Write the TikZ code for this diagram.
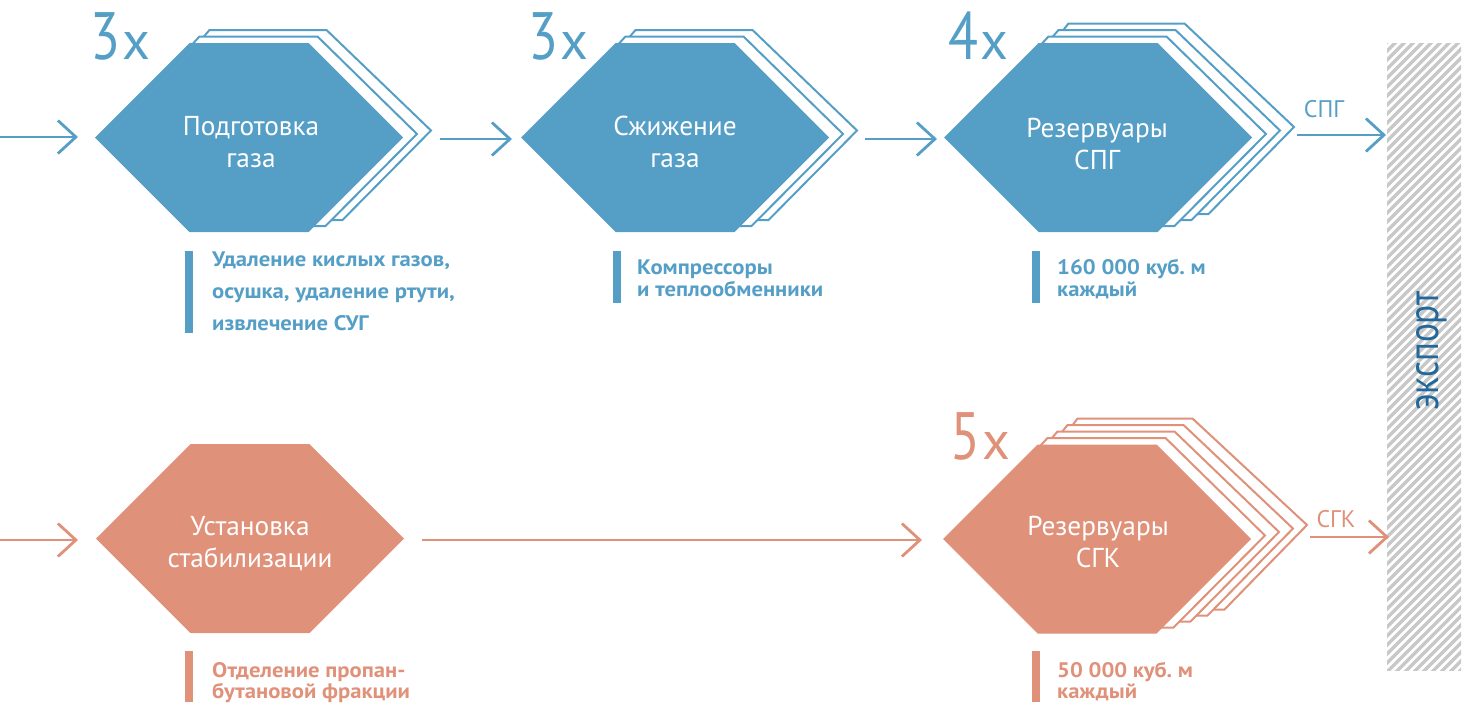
\documentclass[tikz,border=0pt]{standalone}
\usepackage{fontspec}
\setmainfont{PT Sans}
\newfontfamily\condfont[FakeStretch=0.82]{PT Sans}
\newfontfamily\notefont[FakeStretch=1.08]{PT Sans Bold}
\usetikzlibrary{arrows.meta}
\frenchspacing
\definecolor{cblue}{HTML}{559FC7}
\definecolor{corange}{HTML}{E0917A}
\definecolor{cdark}{HTML}{23689A}
\definecolor{chatch}{HTML}{C8C8C8}
\tikzset{
  flow/.style={line width=2.8pt, line cap=butt, -{Straight Barb[length=18pt,width=33pt,line width=2.8pt]}},
  hexlabel/.style={text=white, font=\fontsize{27.3}{32}\selectfont, anchor=base, inner sep=0pt},
  note/.style={font=\notefont\fontsize{21}{22}\selectfont, anchor=base west, inner sep=0pt},
  mult/.style={anchor=base west, inner sep=0pt},
  arrlabel/.style={font=\fontsize{24}{24}\selectfont, anchor=base, inner sep=0pt},
  layer/.style={fill=white, line width=2pt, line join=miter},
}
\newcommand\hexlayers[4]{% cx cy colour list
  \begin{scope}[shift={(#1,#2)}]
    \foreach \k in {#4} {
      \draw[layer, draw=#3] ({-59.5+10*\k},{-94.5-6.5*\k}) -- ({59.5+9*\k},{-94.5-6.5*\k})
        -- ({154+14*\k},{-3.5*\k}) -- ({59.5+17*\k},{94.5-6*\k})
        -- ({-59.5+17*\k},{94.5-6*\k}) -- ({-154+14*\k},{-3.5*\k}) -- cycle;
    }
  \end{scope}}
\newcommand\hexmain[3]{% cx cy colour
  \begin{scope}[shift={(#1,#2)}]
    \fill[#3] (-59.5,-94.5) -- (59.5,-94.5) -- (154,0) -- (59.5,94.5) -- (-59.5,94.5) -- (-154,0) -- cycle;
  \end{scope}}
\newcommand\multnum[2]{{\condfont\fontsize{67}{67}\selectfont #1}\hspace{2pt}{\fontsize{54}{54}\selectfont #2}}
\begin{document}
\begin{tikzpicture}[x=1pt,y=-1pt]
\useasboundingbox (0,0) rectangle (1469,702);
% export bar
\begin{scope}
  \clip (1387,43) rectangle (1461,670);
  \foreach \c in {1420,1429,...,2150} {
    \draw[chatch, line width=3.3pt] ({\c-700},700) -- (\c,0);
  }
\end{scope}
\node[rotate=90, text=cdark, font=\condfont\fontsize{43}{43}\selectfont, inner sep=0pt] (exptext) at (1432,351) {экспорт};

% hexagons
\hexlayers{249}{137.5}{cblue}{2,1}
\hexmain{249}{137.5}{cblue}
\hexlayers{675}{137.5}{cblue}{2,1}
\hexmain{675}{137.5}{cblue}
\hexlayers{1098}{137.5}{cblue}{3,2,1}
\hexmain{1098}{137.5}{cblue}
\hexmain{250}{538.5}{corange}
\hexlayers{1097}{539}{corange}{4,3,2,1}
\hexmain{1097}{539}{corange}

\coordinate (h1) at (249,137.5);
\coordinate (h2) at (675,137.5);
\coordinate (h3) at (1098,137.5);
\coordinate (h4) at (250,538.5);
\coordinate (h5) at (1097,539);

% hexagon labels
\node[hexlabel] (h1a) at (251,135) {Подготовка};
\node[hexlabel] (h1b) at (251,167) {газа};
\node[hexlabel] (h2a) at (675,135) {Сжижение};
\node[hexlabel] (h2b) at (675,167) {газа};
\node[hexlabel] (h3a) at (1097,137) {Резервуары};
\node[hexlabel] (h3b) at (1097,169) {СПГ};
\node[hexlabel] (h4a) at (250,535) {Установка};
\node[hexlabel] (h4b) at (250,567) {стабилизации};
\node[hexlabel] (h5a) at (1098,535) {Резервуары};
\node[hexlabel] (h5b) at (1098,567) {СГК};

% multipliers
\node[mult, text=cblue] (m1) at (90,59.5) {\multnum{3}{x}};
\node[mult, text=cblue] (m2) at (528,59.5) {\multnum{3}{x}};
\node[mult, text=cblue] (m3) at (948,59.5) {\multnum{4}{x}};
\node[mult, text=corange] (m5) at (950,459.5) {\multnum{5}{x}};

% arrows
\coordinate (s1) at (0,137);   \coordinate (t1) at (78,137);
\coordinate (s2) at (440,139); \coordinate (t2) at (512,139);
\coordinate (s3) at (865,139); \coordinate (t3) at (937,139);
\coordinate (s4) at (1297,135); \coordinate (t4) at (1386,135);
\coordinate (s5) at (0,540);   \coordinate (t5) at (78,540);
\coordinate (s6) at (422,540); \coordinate (t6) at (922,540);
\coordinate (s7) at (1310,537); \coordinate (t7) at (1389,537);
\draw[flow, cblue] (s1) -- (t1);
\draw[flow, cblue] (s2) -- (t2);
\draw[flow, cblue] (s3) -- (t3);
\draw[flow, cblue] (s4) -- (t4);
\draw[flow, corange] (s5) -- (t5);
\draw[flow, corange] (s6) -- (t6);
\draw[flow, corange] (s7) -- (t7);
\node[arrlabel, text=cblue] (l4) at (1324,117) {СПГ};
\node[arrlabel, text=corange] (l7) at (1336,527) {СГК};

% notes
\fill[cblue] (185,251) rectangle (193,333);
\node[note, text=cblue] (n1a) at (212,266) {Удаление кислых газов,};
\node[note, text=cblue] (n1b) at (212,298) {осушка, удаление ртути,};
\node[note, text=cblue] (n1c) at (212,330) {извлечение СУГ};
\fill[cblue] (613,251) rectangle (621,303);
\node[note, text=cblue] (n2a) at (637,274) {Компрессоры};
\node[note, text=cblue] (n2b) at (637,296) {и теплообменники};
\fill[cblue] (1032,251) rectangle (1040,303);
\node[note, text=cblue] (n3a) at (1057,274) {160~000 куб.~м};
\node[note, text=cblue] (n3b) at (1057,296) {каждый};
\fill[corange] (185,651) rectangle (193,702);
\node[note, text=corange] (n4a) at (212,677) {Отделение пропан-};
\node[note, text=corange] (n4b) at (212,698) {бутановой фракции};
\fill[corange] (1032,651) rectangle (1040,702);
\node[note, text=corange] (n5a) at (1057,677) {50~000 куб.~м};
\node[note, text=corange] (n5b) at (1057,698) {каждый};
\end{tikzpicture}
\end{document}
